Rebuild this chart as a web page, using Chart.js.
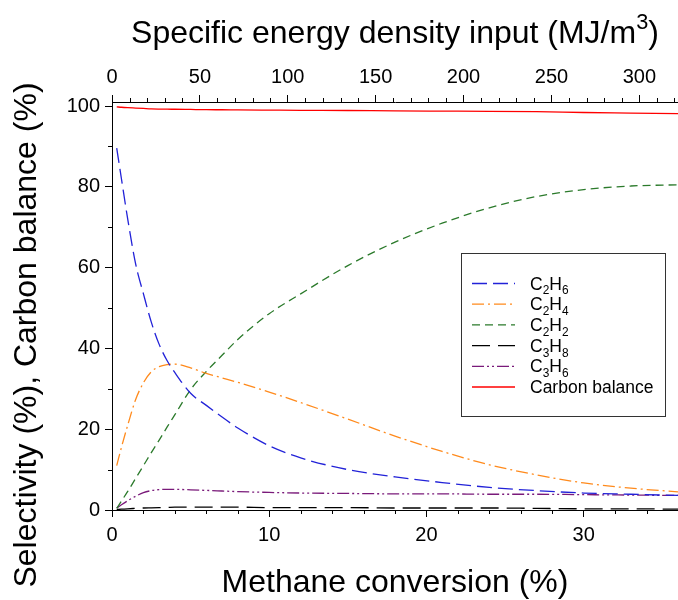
<!DOCTYPE html>
<html lang="en">
<head>
<meta charset="UTF-8">
<title>Selectivity vs methane conversion</title>
<script src="https://cdn.jsdelivr.net/npm/chart.js@4.4.1/dist/chart.umd.min.js"></script>
<style>
  html, body { margin: 0; padding: 0; background: #fff; }
  #wrap { width: 678px; height: 600px; }
</style>
</head>
<body>
<div id="wrap"><canvas id="selChart"></canvas></div>
<script>
// methane conversion (%) - shared x values for every curve
var conversion    = [0.3, 0.6, 1, 1.5, 2, 2.5, 3, 3.5, 4, 5, 6, 7, 8, 10, 12, 15, 18, 21, 24, 27, 30, 33, 36];
var c2h6          = [89.6, 82, 72, 61, 53.5, 46.5, 41, 37, 34, 28.9, 25.9, 23.0, 20.3, 15.9, 12.9, 10.0, 8.2, 6.8, 5.6, 4.8, 4.2, 3.9, 3.6];
var c2h4          = [11, 15.5, 21, 27.3, 31.5, 34.2, 35.5, 36, 36.1, 35.2, 33.8, 32.7, 31.6, 29.2, 26.6, 22.5, 18.3, 14.5, 11.2, 8.7, 6.7, 5.4, 4.5];
var c2h2          = [0.4, 2.2, 4.6, 7.8, 11, 14.2, 17.3, 20.5, 23.6, 29.8, 34.3, 38.3, 42.2, 48.6, 53.5, 60.5, 66.3, 71, 74.8, 77.6, 79.3, 80.2, 80.5];
var c3h8          = [0.1, 0.2, 0.3, 0.4, 0.5, 0.55, 0.6, 0.65, 0.7, 0.7, 0.7, 0.7, 0.7, 0.6, 0.6, 0.6, 0.5, 0.5, 0.5, 0.4, 0.3, 0.3, 0.2];
var c3h6          = [0.5, 1.3, 2.3, 3.4, 4.3, 4.8, 5.05, 5.1, 5.1, 5.0, 4.85, 4.7, 4.55, 4.35, 4.2, 4.1, 4.0, 4.0, 3.9, 3.9, 3.8, 3.7, 3.6];
var carbonBalance = [99.8, 99.7, 99.6, 99.5, 99.4, 99.3, 99.25, 99.22, 99.2, 99.15, 99.1, 99.08, 99.05, 99.0, 98.95, 98.9, 98.8, 98.75, 98.7, 98.6, 98.4, 98.25, 98.1];

// top axis: specific energy density input (MJ/m3)
var energyMax = 322;

var fontFamily = "'Liberation Sans', Arial, sans-serif";

// legend labels, pieces: [text, 'n' | 'sub']
var legendLabels = [
  [['C', 'n'], ['2', 'sub'], ['H', 'n'], ['6', 'sub']],
  [['C', 'n'], ['2', 'sub'], ['H', 'n'], ['4', 'sub']],
  [['C', 'n'], ['2', 'sub'], ['H', 'n'], ['2', 'sub']],
  [['C', 'n'], ['3', 'sub'], ['H', 'n'], ['8', 'sub']],
  [['C', 'n'], ['3', 'sub'], ['H', 'n'], ['6', 'sub']],
  [['Carbon balance', 'n']]
];

function toPoints(ys) {
  return ys.map(function(y, i) { return { x: conversion[i], y: y }; });
}

function makeSet(label, values, color, dash) {
  return {
    label: label,
    data: toPoints(values),
    borderColor: color,
    backgroundColor: color,
    borderWidth: 1.3,
    borderDash: dash,
    pointRadius: 0,
    fill: false,
    cubicInterpolationMode: 'monotone'
  };
}

var datasets = [
  makeSet('C2H6', c2h6, '#2222d8', [15, 6]),
  makeSet('C2H4', c2h4, '#ff8a1c', [12, 4, 2, 4]),
  makeSet('C2H2', c2h2, '#2b7a2b', [8, 5]),
  makeSet('C3H8', c3h8, '#000000', [18, 8]),
  makeSet('C3H6', c3h6, '#7a1a7a', [12, 3, 2, 3, 2, 3]),
  makeSet('Carbon balance', carbonBalance, '#ff0000', [])
];

// draws text made of normal / subscript / superscript pieces, returns width
function drawPieces(ctx, pieces, x, y, size, measureOnly) {
  var w = 0;
  pieces.forEach(function(p) {
    var small = p[1] !== 'n';
    var fs = small ? size * 0.68 : size;
    ctx.font = fs + 'px ' + fontFamily;
    var dy = p[1] === 'sub' ? size * 0.28 : (p[1] === 'sup' ? -size * 0.45 : 0);
    if (!measureOnly) ctx.fillText(p[0], x + w, y + dy);
    w += ctx.measureText(p[0]).width;
  });
  return w;
}

var decorations = {
  id: 'decorations',
  afterDraw: function(chart) {
    var ctx = chart.ctx, a = chart.chartArea;
    var sx = chart.scales.x, sx2 = chart.scales.x2, sy = chart.scales.y;
    ctx.save();

    // minor ticks
    ctx.strokeStyle = '#000';
    ctx.lineWidth = 1;
    ctx.beginPath();
    for (var v = 2; v < 36; v += 2) {
      if (v % 10 === 0) continue;
      var p = Math.round(sx.getPixelForValue(v)) + 0.5;
      ctx.moveTo(p, a.bottom); ctx.lineTo(p, a.bottom + 4);
    }
    for (var e = 10; e < energyMax; e += 10) {
      if (e % 50 === 0) continue;
      var q = Math.round(sx2.getPixelForValue(e)) + 0.5;
      ctx.moveTo(q, a.top); ctx.lineTo(q, a.top - 4);
    }
    for (var s = 10; s < 100; s += 20) {
      var r = Math.round(sy.getPixelForValue(s)) + 0.5;
      ctx.moveTo(a.left, r); ctx.lineTo(a.left - 4, r);
    }
    ctx.stroke();

    // axis titles
    ctx.fillStyle = '#000';
    ctx.textBaseline = 'alphabetic';
    ctx.textAlign = 'left';
    var cx = (a.left + a.right) / 2;
    var topTitle = [['Specific energy density input (MJ/m', 'n'], ['3', 'sup'], [')', 'n']];
    var tw = drawPieces(ctx, topTitle, 0, 0, 32, true);
    drawPieces(ctx, topTitle, cx - tw / 2, 43, 32, false);

    var bottomTitle = [['Methane conversion (%)', 'n']];
    var bw = drawPieces(ctx, bottomTitle, 0, 0, 32, true);
    drawPieces(ctx, bottomTitle, cx - bw / 2, 592, 32, false);

    var leftTitle = [['Selectivity (%), Carbon balance (%)', 'n']];
    var lw = drawPieces(ctx, leftTitle, 0, 0, 32, true);
    ctx.save();
    ctx.translate(36, 335);
    ctx.rotate(-Math.PI / 2);
    drawPieces(ctx, leftTitle, -lw / 2, 0, 32, false);
    ctx.restore();

    // legend box
    var bx = a.right - 217, by = a.top + 151, bwid = 204, bh = 163;
    ctx.fillStyle = '#fff';
    ctx.fillRect(bx, by, bwid, bh);
    ctx.strokeStyle = '#333';
    ctx.lineWidth = 1;
    ctx.strokeRect(bx + 0.5, by + 0.5, bwid, bh);
    chart.data.datasets.forEach(function(ds, i) {
      var ly = by + 30.5 + i * 20.7;
      ctx.strokeStyle = ds.borderColor;
      ctx.lineWidth = 1.3;
      ctx.setLineDash(ds.borderDash);
      ctx.beginPath();
      ctx.moveTo(bx + 11, ly); ctx.lineTo(bx + 54, ly);
      ctx.stroke();
      ctx.setLineDash([]);
      ctx.fillStyle = '#000';
      drawPieces(ctx, legendLabels[i], bx + 69, ly + 6, 17.5, false);
    });
    ctx.restore();
  }
};

var tickFont = { family: fontFamily, size: 20 };

var config = {
  type: 'line',
  data: { datasets: datasets },
  options: {
    responsive: true,
    maintainAspectRatio: false,
    animation: false,
    layout: { padding: 0 },
    plugins: { legend: { display: false }, tooltip: { enabled: false } },
    scales: {
      x: {
        type: 'linear', position: 'bottom', min: 0, max: 36,
        afterFit: function(s) { s.height = 90; },
        border: { color: '#000', width: 1 },
        grid: { drawOnChartArea: false, tickLength: 7, color: '#000' },
        ticks: { stepSize: 10, includeBounds: false, padding: 6, color: '#000', font: tickFont, maxRotation: 0 }
      },
      x2: {
        type: 'linear', position: 'top', min: 0, max: energyMax,
        afterFit: function(s) { s.height = 102; },
        border: { color: '#000', width: 1 },
        grid: { drawOnChartArea: false, tickLength: 7, color: '#000' },
        ticks: { stepSize: 50, includeBounds: false, padding: 6, color: '#000', font: tickFont, maxRotation: 0 }
      },
      y: {
        type: 'linear', position: 'left', min: 0, max: 101,
        afterFit: function(s) { s.width = 112; },
        border: { color: '#000', width: 1 },
        grid: { drawOnChartArea: false, tickLength: 7, color: '#000' },
        ticks: { stepSize: 20, includeBounds: false, padding: 5, color: '#000', font: tickFont }
      }
    }
  },
  plugins: [decorations]
};

window.onload = function() {
  var ctx = document.getElementById('selChart').getContext('2d');
  window.selChart = new Chart(ctx, config);
};
</script>
</body>
</html>
